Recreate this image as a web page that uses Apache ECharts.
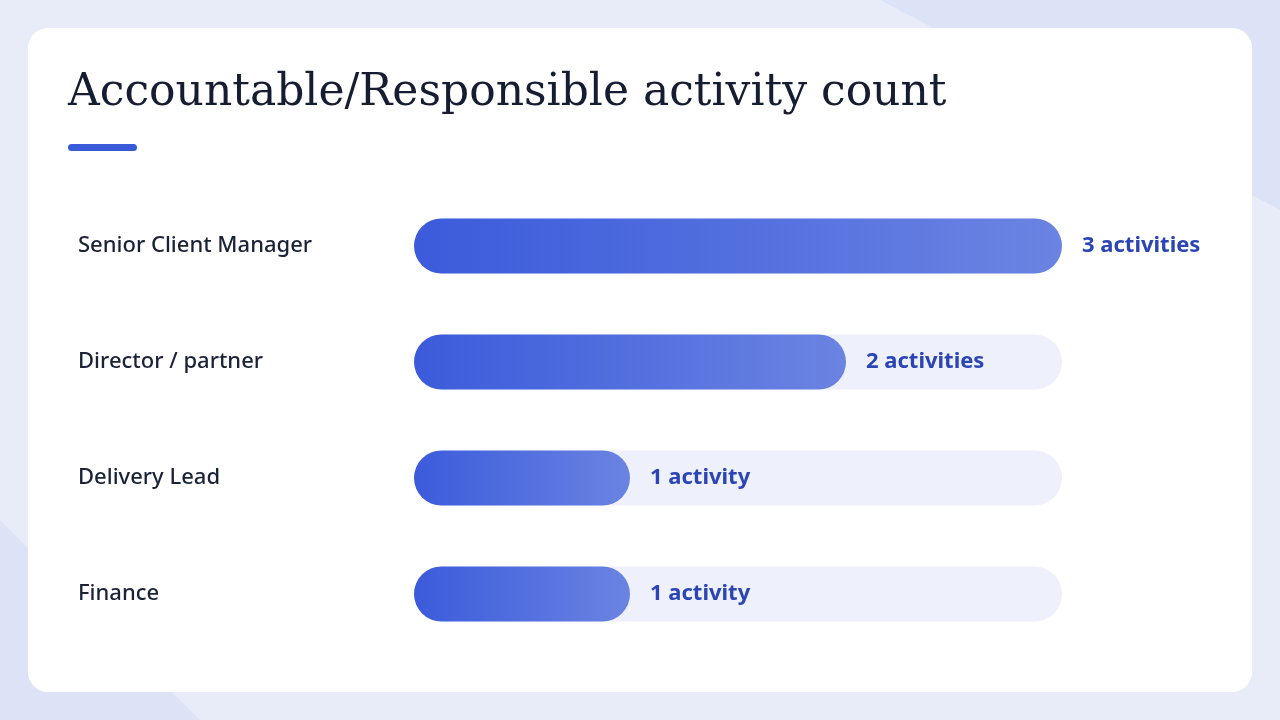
<!DOCTYPE html>
<html><head><meta charset="utf-8">
<script src="https://cdn.jsdelivr.net/npm/echarts@6/dist/echarts.min.js"></script>
<style>html,body{margin:0;padding:0;background:#e8ecf9}#c{width:1280px;height:720px}</style>
</head><body><div id="c"></div>
<script>
const categories = ['Senior Client Manager','Director / partner','Delivery Lead','Finance'];
const values = [3,2,1,1];
const valueLabels = ['3 activities','2 activities','1 activity','1 activity'];
const maxValue = 3;

const chart = echarts.init(document.getElementById('c'));
chart.setOption({
  backgroundColor:'#e8ecf9',
  graphic:[
    {type:'polygon',shape:{points:[[880,0],[1280,0],[1280,210]]},style:{fill:'#dde3f6'},z:-2},
    {type:'polygon',shape:{points:[[0,520],[200,720],[0,720]]},style:{fill:'#dde3f6'},z:-2},
    {type:'rect',shape:{x:28,y:28,width:1224,height:664,r:20},style:{fill:'#ffffff'},z:-1},
    {type:'text',left:68,top:72,style:{text:'Accountable/Responsible activity count',font:'44px "DejaVu Serif", serif',fill:'#161d33'}},
    {type:'rect',shape:{x:68,y:144,width:69,height:7,r:3.5},style:{fill:'#3a5bd9'}}
  ],
  grid:{left:414,right:218,top:188,bottom:68},
  xAxis:{type:'value',min:0,max:maxValue,show:false},
  yAxis:{type:'category',inverse:true,data:categories,
    axisLine:{show:false},axisTick:{show:false},
    axisLabel:{margin:336,align:'left',fontFamily:'Noto Sans',fontSize:22,fontWeight:500,color:'#1a2238',padding:[4,0,0,0]}},
  series:[{type:'bar',data:values,barWidth:55,
    showBackground:true,backgroundStyle:{color:'#eef0fb',borderRadius:27.5},
    itemStyle:{borderRadius:27.5,color:new echarts.graphic.LinearGradient(0,0,1,0,[{offset:0,color:'#3b5bdb'},{offset:1,color:'#6b84e2'}])},
    label:{show:true,position:'right',distance:20,fontFamily:'Noto Sans',fontSize:22,fontWeight:'bold',color:'#2b45b5',padding:[4,0,0,0],
      formatter:p=>valueLabels[p.dataIndex]}
  }]
});
</script></body></html>
